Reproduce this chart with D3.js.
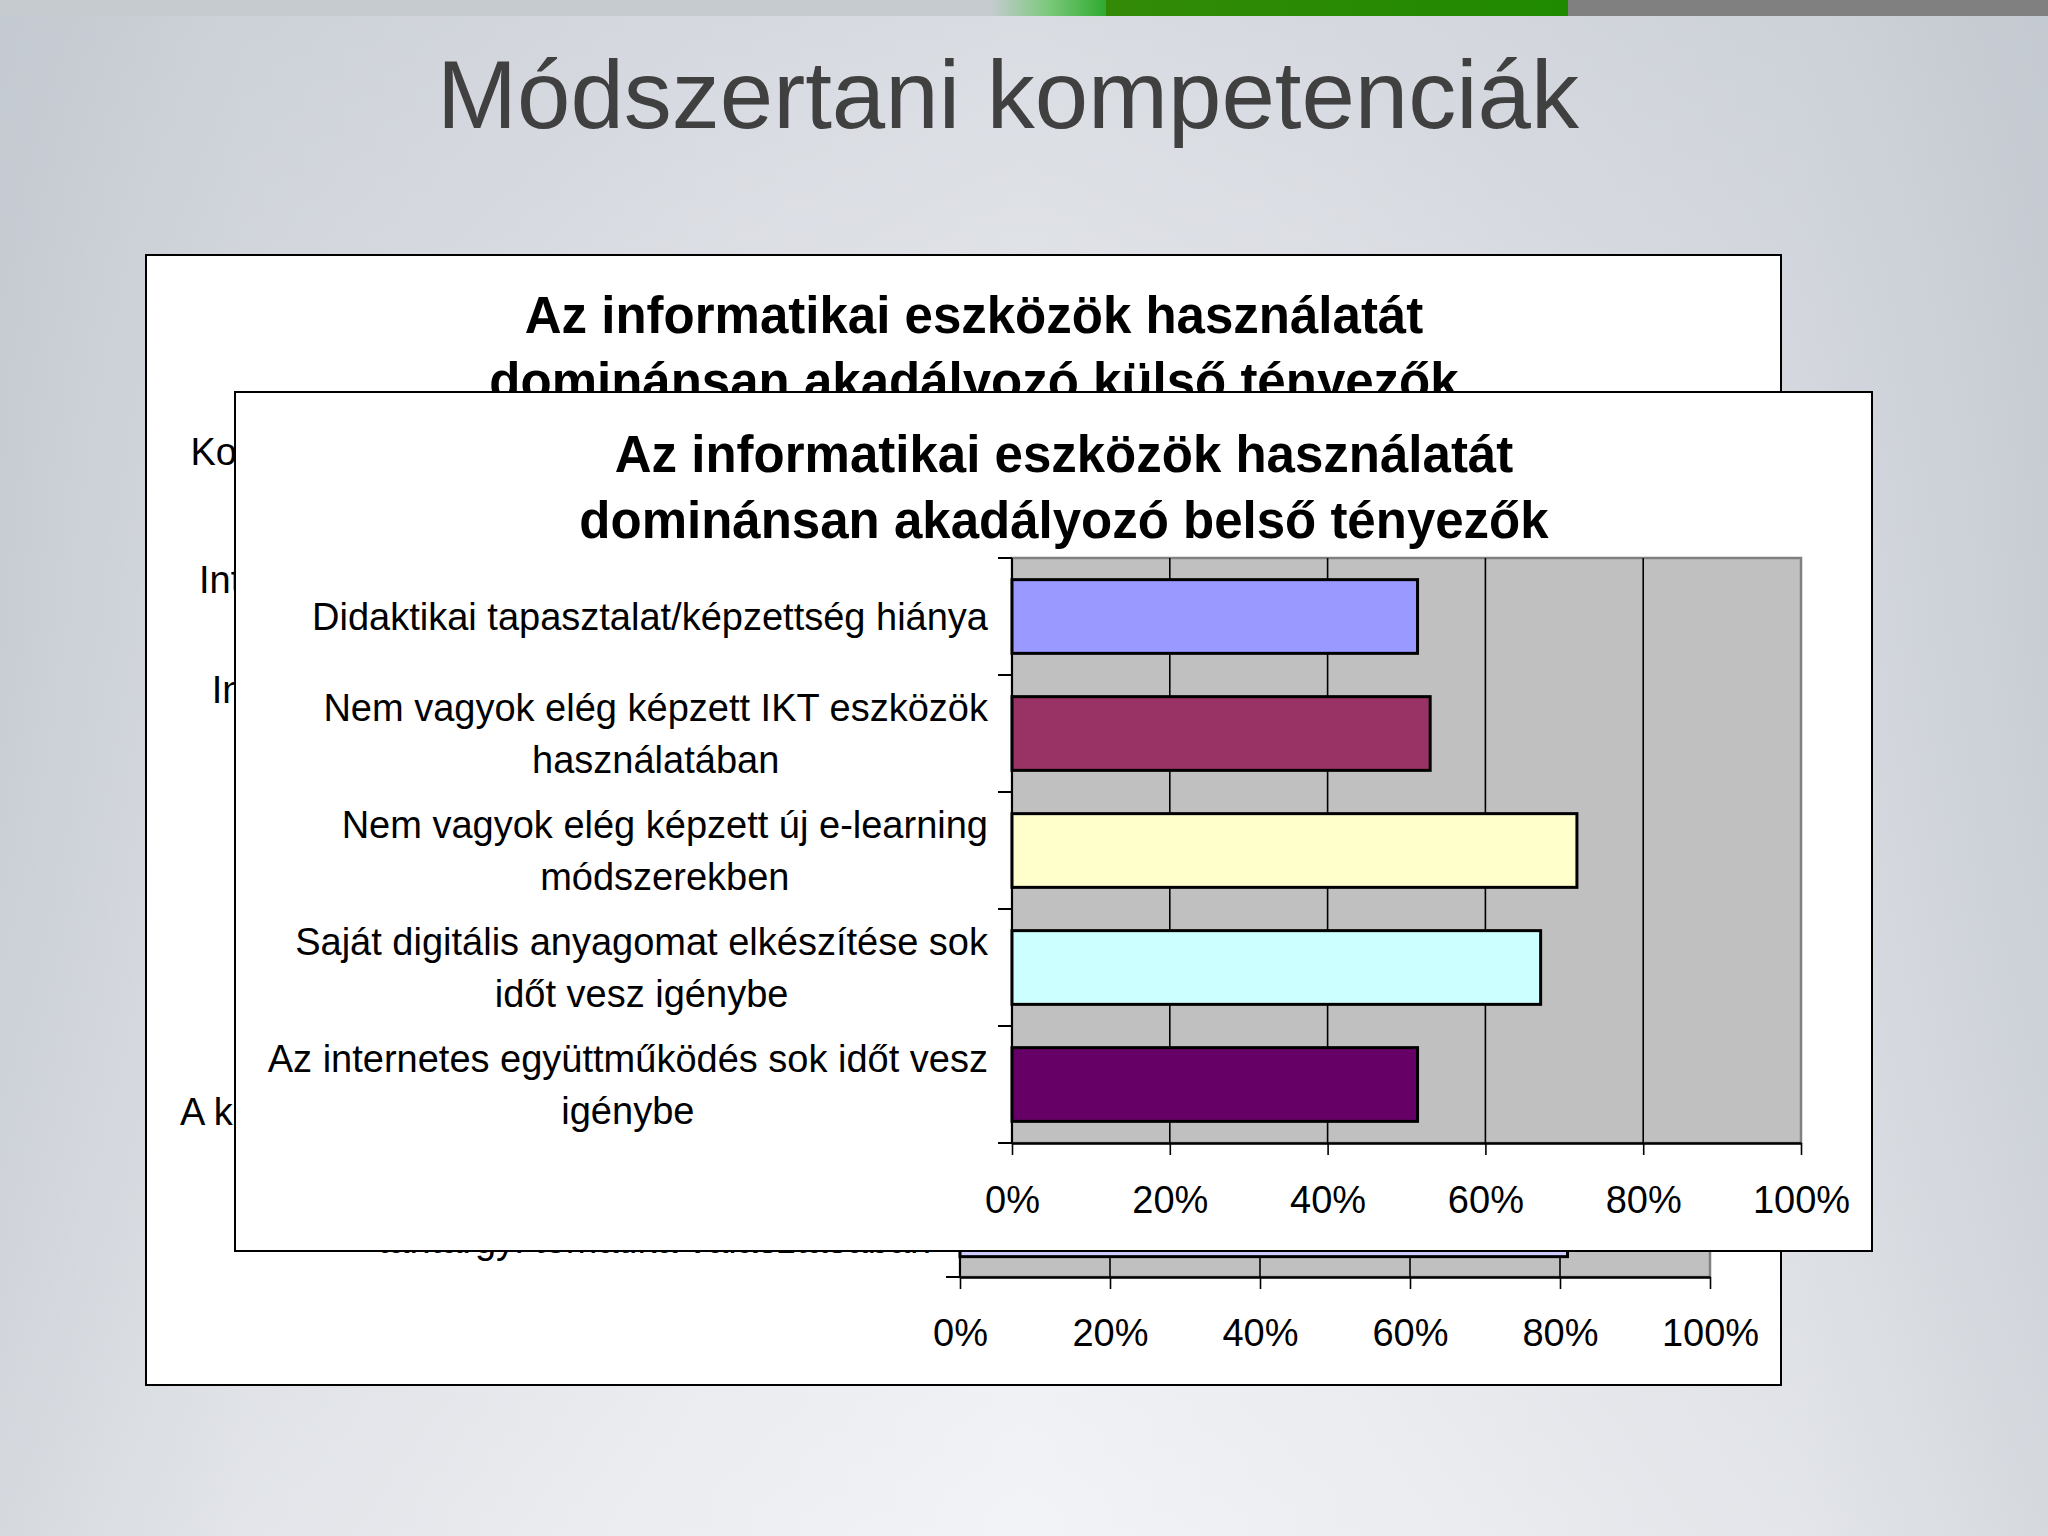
<!DOCTYPE html>
<html><head><meta charset="utf-8">
<script src="https://cdn.jsdelivr.net/npm/d3@7"></script>
<style>html,body{margin:0;padding:0;background:#e4e6ea;} svg{display:block}</style>
</head><body>
<script>
// ---------- DATA ----------
const slideTitle = "Módszertani kompetenciák";

// back chart (mostly hidden behind the front chart)
const outerTitle = ["Az informatikai eszközök használatát", "dominánsan akadályozó külső tényezők"];
const outerCategories = [
  "Korszerű számítógépek hiánya az iskolában",
  "Nincs megfelelő sávszélességű\nInternet hozzáférés az iskolai tantermekben",
  "Nincs rendszergazda,\nInformatikai szaktámogatás nem megfelelő",
  "Kevés számítógép jut\negy diákra",
  "Az iskolavezetés nem\ntámogatja az IKT használatát",
  "Nincs megfelelő digitális\ntananyag a tantárgyhoz",
  "A kötelező tananyag miatt nincs rá elég időm",
  "Kötött tanterv, nincs szabadság a\ntantárgyi tematika választásában"
];
const outerValues = [0.62, 0.55, 0.48, 0.70, 0.35, 0.58, 0.75, 0.81];
const outerColors = ["#9999FF", "#993366", "#FFFFCC", "#CCFFFF", "#660066", "#FF8080", "#0066CC", "#CCCCFF"];

// front chart
const innerTitle = ["Az informatikai eszközök használatát", "dominánsan akadályozó belső tényezők"];
const innerCategories = [
  "Didaktikai tapasztalat/képzettség hiánya",
  "Nem vagyok elég képzett IKT eszközök\nhasználatában",
  "Nem vagyok elég képzett új e-learning\nmódszerekben",
  "Saját digitális anyagomat elkészítése sok\nidőt vesz igénybe",
  "Az internetes együttműködés sok időt vesz\nigénybe"
];
const innerValues = [0.514, 0.530, 0.716, 0.670, 0.514];
const innerColors = ["#9999FF", "#993366", "#FFFFCC", "#CCFFFF", "#660066"];

const tickValues = [0, 0.2, 0.4, 0.6, 0.8, 1];
const tickLabels = ["0%", "20%", "40%", "60%", "80%", "100%"];

// ---------- LAYOUT ----------
const W = 2048, H = 1536;
const FONT = "'Liberation Sans', Arial, Helvetica, sans-serif";
const svg = d3.select("body").append("svg").attr("width", W).attr("height", H);
const defs = svg.append("defs");

const hg = defs.append("linearGradient").attr("id", "bgH").attr("x1", 0).attr("x2", 1).attr("y1", 0).attr("y2", 0);
[[0, "#c8cdd4"], [0.12, "#d9dce2"], [0.35, "#e8e9ee"], [0.5, "#eeeff3"], [0.65, "#e8e9ee"], [0.88, "#d9dce2"], [1, "#c8cdd4"]]
  .forEach(([o, c]) => hg.append("stop").attr("offset", o).attr("stop-color", c));
const vg = defs.append("linearGradient").attr("id", "bgV").attr("x1", 0).attr("x2", 0).attr("y1", 0).attr("y2", 1);
[[0, "rgba(190,196,204,0.45)"], [0.4, "rgba(200,205,212,0.15)"], [1, "rgba(255,255,255,0.25)"]]
  .forEach(([o, c]) => vg.append("stop").attr("offset", o).attr("stop-color", c));
svg.append("rect").attr("width", W).attr("height", H).attr("fill", "url(#bgH)");
svg.append("rect").attr("width", W).attr("height", H).attr("fill", "url(#bgV)");

// top strip
const gg = defs.append("linearGradient").attr("id", "greenFade").attr("x1", 0).attr("x2", 1);
gg.append("stop").attr("offset", 0).attr("stop-color", "#c6cbd0");
gg.append("stop").attr("offset", 0.5).attr("stop-color", "#7cc97c");
gg.append("stop").attr("offset", 1).attr("stop-color", "#2faa2f");
const gd = defs.append("linearGradient").attr("id", "greenDark").attr("x1", 0).attr("x2", 1);
gd.append("stop").attr("offset", 0).attr("stop-color", "#338a06");
gd.append("stop").attr("offset", 1).attr("stop-color", "#1f8a00");
svg.append("rect").attr("x", 0).attr("y", 0).attr("width", 990).attr("height", 16).attr("fill", "#c6cbd0");
svg.append("rect").attr("x", 990).attr("y", 0).attr("width", 116).attr("height", 16).attr("fill", "url(#greenFade)");
svg.append("rect").attr("x", 1106).attr("y", 0).attr("width", 462).attr("height", 16).attr("fill", "url(#greenDark)");
svg.append("rect").attr("x", 1568).attr("y", 0).attr("width", W - 1568).attr("height", 16).attr("fill", "#808080");

// slide title
svg.append("text").attr("x", 1008).attr("y", 128).attr("text-anchor", "middle")
  .attr("font-family", FONT).attr("font-size", 96).attr("fill", "#404040").text(slideTitle);

function drawChart(o) {
  const g = svg.append("g");
  g.append("rect").attr("x", o.box.x).attr("y", o.box.y).attr("width", o.box.w).attr("height", o.box.h)
    .attr("fill", "#ffffff").attr("stroke", "#000").attr("stroke-width", 2);
  const clip = "clip" + o.id;
  defs.append("clipPath").attr("id", clip).append("rect")
    .attr("x", o.box.x + 1).attr("y", o.box.y + 1).attr("width", o.box.w - 2).attr("height", o.box.h - 2);
  const c = g.append("g").attr("clip-path", `url(#${clip})`);

  // title
  o.title.forEach((t, i) => {
    c.append("text").attr("x", o.titleX).attr("y", o.titleY + i * 66).attr("text-anchor", "middle")
      .attr("font-family", FONT).attr("font-weight", "bold").attr("font-size", 51).attr("fill", "#000").text(t);
  });

  const x = d3.scaleLinear().domain([0, 1]).range([o.plot.x0, o.plot.x1]);
  const y = d3.scaleBand().domain(o.categories).range([o.plot.y0, o.plot.y1]).paddingInner(0.37).paddingOuter(0.185);

  // plot area
  c.append("rect").attr("x", o.plot.x0).attr("y", o.plot.y0)
    .attr("width", o.plot.x1 - o.plot.x0).attr("height", o.plot.y1 - o.plot.y0)
    .attr("fill", "#c0c0c0").attr("stroke", "#808080").attr("stroke-width", 2.5);

  // gridlines
  c.selectAll(".grid").data(tickValues.filter(v => v > 0 && v < 1)).join("line")
    .attr("x1", d => x(d)).attr("x2", d => x(d)).attr("y1", o.plot.y0).attr("y2", o.plot.y1)
    .attr("stroke", "#000").attr("stroke-width", 1.6);

  // bars
  c.selectAll(".bar").data(o.categories).join("rect")
    .attr("x", x(0)).attr("y", d => y(d))
    .attr("width", (d, i) => x(o.values[i]) - x(0)).attr("height", y.bandwidth())
    .attr("fill", (d, i) => o.colors[i]).attr("stroke", "#000").attr("stroke-width", 3);

  // category axis (ticks on boundaries)
  const step = y.step();
  const bounds = d3.range(o.categories.length + 1).map(i => o.plot.y0 + i * step);
  c.append("line").attr("x1", o.plot.x0).attr("x2", o.plot.x0).attr("y1", o.plot.y0).attr("y2", o.plot.y1)
    .attr("stroke", "#000").attr("stroke-width", 2);
  c.selectAll(".btick").data(bounds).join("line")
    .attr("x1", o.plot.x0 - 14).attr("x2", o.plot.x0).attr("y1", d => d).attr("y2", d => d)
    .attr("stroke", "#000").attr("stroke-width", 2);

  // value axis
  const ax = c.append("g").attr("transform", `translate(0,${o.plot.y1})`)
    .call(d3.axisBottom(x).tickValues(tickValues).tickFormat((d, i) => tickLabels[i])
      .tickSize(12).tickSizeOuter(0).tickPadding(o.tickPad));
  ax.select(".domain").attr("stroke", "#000").attr("stroke-width", 2.5);
  ax.selectAll(".tick line").attr("stroke", "#000").attr("stroke-width", 1.6);
  ax.selectAll(".tick text").attr("font-family", FONT).attr("font-size", 38).attr("fill", "#000");

  // category labels: block right-aligned, lines centered in block
  o.categories.forEach(cat => {
    const lines = cat.split("\n");
    const widths = lines.map(l => {
      const t = c.append("text").attr("font-family", FONT).attr("font-size", 38).text(l);
      const w = t.node().getComputedTextLength(); t.remove(); return w;
    });
    const bw = d3.max(widths);
    const cx = o.labelRight - bw / 2;
    const cy = y(cat) + y.bandwidth() / 2;
    lines.forEach((l, i) => {
      c.append("text").attr("x", cx).attr("y", cy + (i - (lines.length - 1) / 2) * o.lineH)
        .attr("dy", "0.35em").attr("text-anchor", "middle")
        .attr("font-family", FONT).attr("font-size", 38).attr("fill", "#000").text(l);
    });
  });
}

drawChart({
  id: "outer",
  box: { x: 146, y: 255, w: 1635, h: 1130 },
  title: outerTitle, titleX: 974, titleY: 333,
  plot: { x0: 960, x1: 1710, y0: 397, y1: 1277 },
  categories: outerCategories, values: outerValues, colors: outerColors,
  labelRight: 934, tickPad: 30, lineH: 36
});

drawChart({
  id: "inner",
  box: { x: 235, y: 392, w: 1637, h: 859 },
  title: innerTitle, titleX: 1064, titleY: 472,
  plot: { x0: 1012, x1: 1801, y0: 558, y1: 1143 },
  categories: innerCategories, values: innerValues, colors: innerColors,
  labelRight: 988, tickPad: 31, lineH: 52
});
</script>
</body></html>
